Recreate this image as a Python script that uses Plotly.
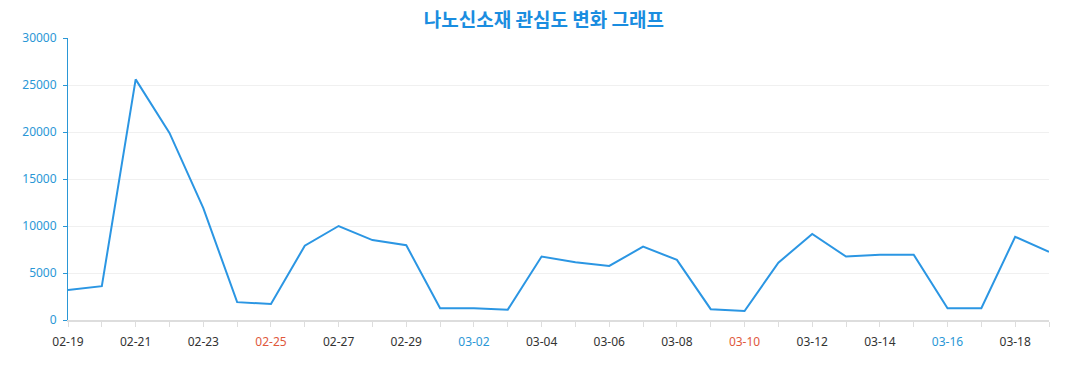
import plotly.graph_objects as go

dates = ["02-19", "02-20", "02-21", "02-22", "02-23", "02-24", "02-25", "02-26", "02-27", "02-28",
         "02-29", "03-01", "03-02", "03-03", "03-04", "03-05", "03-06", "03-07", "03-08", "03-09",
         "03-10", "03-11", "03-12", "03-13", "03-14", "03-15", "03-16", "03-17", "03-18", "03-19"]
values = [3200, 3600, 25600, 19900, 11900, 1900, 1700, 7900, 10000, 8500,
          7950, 1250, 1250, 1100, 6750, 6150, 5750, 7800, 6400, 1150,
          950, 6100, 9150, 6750, 6950, 6950, 1250, 1250, 8850, 7250]
red_labels = ["02-25", "03-10"]
blue_labels = ["03-02", "03-16"]
title = "나노신소재 관심도 변화 그래프"

x_idx = list(range(len(dates)))
ticktext = []
for i, d in enumerate(dates):
    if i % 2 == 1:
        ticktext.append("")
    elif d in red_labels:
        ticktext.append(f'<span style="color:#e0583c">{d}</span>')
    elif d in blue_labels:
        ticktext.append(f'<span style="color:#2a97d6">{d}</span>')
    else:
        ticktext.append(d)

fig = go.Figure()
fig.add_trace(go.Scatter(x=x_idx, y=values, mode="lines",
                         line=dict(color="#2b96e3", width=2), hoverinfo="y"))

fig.update_layout(
    width=1077, height=390,
    margin=dict(l=68, r=28, t=38, b=70, autoexpand=False),
    paper_bgcolor="white", plot_bgcolor="white",
    showlegend=False,
    font=dict(family="Noto Sans, Noto Sans CJK KR, sans-serif"),
    title=dict(text=f"<b>{title}</b>", x=0.505, xanchor="center",
               y=0.948, yref="container", yanchor="middle",
               font=dict(family="Noto Sans CJK KR", size=19, color="#1a8de0")),
)
fig.update_xaxes(
    range=[0, 29], tickvals=x_idx, ticktext=ticktext,
    tickfont=dict(size=12, color="#333333"),
    showgrid=False, zeroline=False, automargin=False,
    showline=True, linecolor="#dddddd", linewidth=2,
    ticks="outside", ticklen=5, tickcolor="#dddddd",
    ticklabelstandoff=5,
)
fig.update_yaxes(
    range=[0, 30000], tickvals=[0, 5000, 10000, 15000, 20000, 25000, 30000],
    tickformat="d",
    tickfont=dict(size=12, color="#2a97d6"),
    showgrid=True, gridcolor="#f0f0f0", gridwidth=1, zeroline=False, automargin=False,
    showline=True, linecolor="#2a97d6", linewidth=1,
    ticks="outside", ticklen=4, tickcolor="#2a97d6",
    ticklabelstandoff=4,
)

fig.write_html("out.html", config={"displayModeBar": False},
               post_script="document.body.style.margin='0';")
